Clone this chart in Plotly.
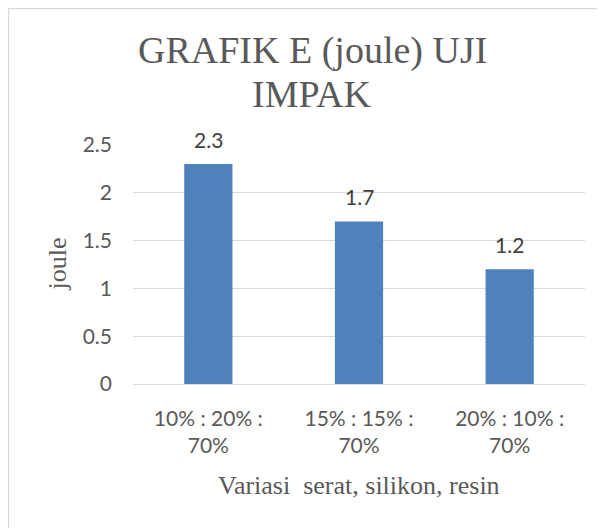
import plotly.graph_objects as go

categories = ["10% : 20% :<br>70%", "15% : 15% :<br>70%", "20% : 10% :<br>70%"]
values = [2.3, 1.7, 1.2]
value_labels = ["2.3", "1.7", "1.2"]
y_ticks = [0, 0.5, 1, 1.5, 2, 2.5]
y_tick_labels = ["0", "0.5", "1", "1.5", "2", "2.5"]
title_lines = ["GRAFIK E (joule) UJI", "IMPAK"]
y_title = "joule"
x_title = "Variasi\u00a0 serat, silikon, resin"

# the page body adds an 8px offset; figure is sized to fill the rest
W, H = 597, 520
L, R, T, B = 125, 20, 137, 144
pw = W - L - R
ph = H - T - B


def px_x(p):
    return (p - L) / pw


def px_y(p):
    return (H - B - p) / ph


SANS = "Lato, Carlito, Calibri, 'Liberation Sans', sans-serif"
SERIF = "'Liberation Serif', 'Times New Roman', serif"
GRAY = "#595959"

fig = go.Figure()
fig.add_trace(go.Bar(
    x=categories, y=values,
    marker=dict(color="#4F81BD", line=dict(width=0)),
    width=0.32,
    hoverinfo="skip",
))

annotations = []
for c, v, t in zip(categories, values, value_labels):
    annotations.append(dict(
        x=c, y=v, xref="x", yref="y", text=t, showarrow=False,
        yanchor="bottom", yshift=10,
        font=dict(family=SANS, size=21, color="#404040"),
    ))

for text, yc in zip(title_lines, [42, 86]):
    annotations.append(dict(
        x=px_x(304), y=px_y(yc), xref="paper", yref="paper", text=text,
        showarrow=False, xanchor="center", yanchor="middle",
        font=dict(family=SERIF, size=38, color=GRAY),
    ))

annotations.append(dict(
    x=px_x(49), y=0.5, xref="paper", yref="paper", text=y_title,
    textangle=-90, showarrow=False, xanchor="center", yanchor="middle",
    font=dict(family=SERIF, size=26, color=GRAY),
))
annotations.append(dict(
    x=0.5, y=px_y(477), xref="paper", yref="paper", text=x_title,
    showarrow=False, xanchor="center", yanchor="middle",
    font=dict(family=SERIF, size=26, color=GRAY),
))

fig.update_layout(
    width=W, height=H,
    margin=dict(l=L, r=R, t=T, b=B, autoexpand=False),
    paper_bgcolor="white", plot_bgcolor="white",
    showlegend=False,
    xaxis=dict(
        type="category",
        showgrid=False, showline=False, zeroline=False,
        ticks="", tickfont=dict(family=SANS, size=21, color=GRAY),
        ticklabelstandoff=20,
    ),
    yaxis=dict(
        range=[0, 2.5], tickvals=y_ticks, ticktext=y_tick_labels,
        showgrid=True, gridcolor="#D9D9D9", gridwidth=1,
        zeroline=True, zerolinecolor="#D9D9D9", zerolinewidth=1,
        showline=False, ticks="",
        tickfont=dict(family=SANS, size=21, color=GRAY),
        ticklabelstandoff=20,
    ),
    bargap=0.68,
    annotations=annotations,
    shapes=[dict(
        type="rect", xref="paper", yref="paper",
        x0=px_x(0.5), x1=px_x(640), y0=px_y(0.5), y1=px_y(560),
        line=dict(color="#D9D9D9", width=1.25), fillcolor="rgba(0,0,0,0)",
        layer="below",
    )],
)

fig.write_html("out.html")
